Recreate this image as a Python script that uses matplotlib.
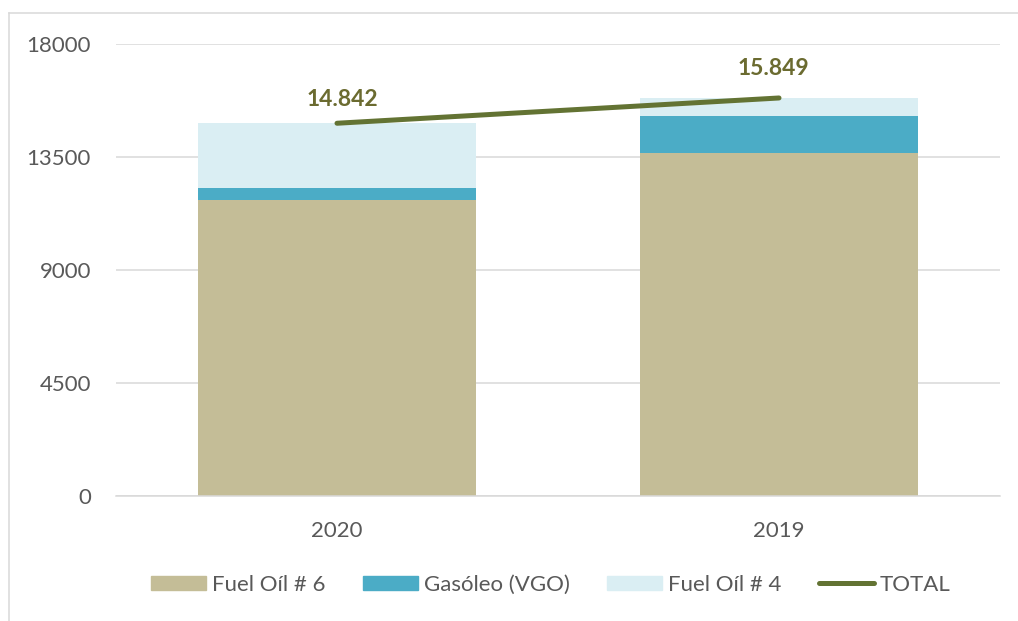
import matplotlib
matplotlib.use("Agg")
import matplotlib.pyplot as plt
from matplotlib.lines import Line2D
from matplotlib.patches import Patch

plt.rcParams['font.family'] = ['Lato', 'DejaVu Sans']

categories = ["2020", "2019"]
fuel_oil_6 = [11800, 13650]
gasoleo_vgo = [480, 1500]
fuel_oil_4 = [2562, 699]
total = [14842, 15849]
total_labels = ["14.842", "15.849"]
yticks = [0, 4500, 9000, 13500, 18000]

c_fo6 = "#C4BD97"
c_gas = "#4BACC6"
c_fo4 = "#DAEEF3"
c_tot = "#637333"
c_lbl = "#6B6B30"
c_txt = "#595959"

fig = plt.figure(figsize=(10.18, 6.21), dpi=100)
ax = fig.add_axes([116/1018, 1-495.7/621, 884/1018, 451.7/621])

x = list(range(len(categories)))
w = 0.63
ax.bar(x, fuel_oil_6, w, color=c_fo6, zorder=2)
b1 = [a for a in fuel_oil_6]
ax.bar(x, gasoleo_vgo, w, bottom=b1, color=c_gas, zorder=2)
b2 = [a + b for a, b in zip(fuel_oil_6, gasoleo_vgo)]
ax.bar(x, fuel_oil_4, w, bottom=b2, color=c_fo4, zorder=2)
ax.plot(x, total, color=c_tot, lw=3.6, solid_capstyle='round', zorder=3)

offsets = [(4, 17), (-4, 21)]
for xi, yi, lab, off in zip(x, total, total_labels, offsets):
    ax.annotate(lab, (xi, yi), xytext=off, textcoords='offset points',
                ha='center', va='center', fontsize=16.5, fontweight='bold',
                color=c_lbl, zorder=4)

ax.set_xlim(-0.5, 1.5)
ax.set_ylim(0, 18000)
ax.set_yticks(yticks)
ax.set_yticklabels([str(t) for t in yticks])
ax.set_xticks(x)
ax.set_xticklabels(categories)
ax.tick_params(axis='both', length=0, labelsize=16, labelcolor=c_txt)
ax.tick_params(axis='y', pad=18)
ax.tick_params(axis='x', pad=18)
ax.grid(axis='y', color="#D9D9D9", lw=1.1, zorder=0)
ax.set_axisbelow(True)
for s in ["top", "right", "left"]:
    ax.spines[s].set_visible(False)
ax.spines["bottom"].set_color("#D9D9D9")
ax.spines["bottom"].set_linewidth(1.1)

handles = [Patch(color=c_fo6), Patch(color=c_gas), Patch(color=c_fo4),
           Line2D([0], [0], color=c_tot, lw=3.6, solid_capstyle='round')]
labels = ["Fuel Oíl # 6", "Gasóleo (VGO)", "Fuel Oíl # 4", "TOTAL"]
leg = fig.legend(handles, labels, loc='center', bbox_to_anchor=(551/1018, 1-585/621),
                 ncol=4, frameon=False, fontsize=16, handlelength=2.48,
                 handleheight=0.63, handletextpad=0.27, columnspacing=1.67)
for t in leg.get_texts():
    t.set_color(c_txt)

# outer frame (top and left)
fig.add_artist(Line2D([9/1018, 1.0], [1-13/621, 1-13/621], transform=fig.transFigure,
                      color="#D9D9D9", lw=1.1))
fig.add_artist(Line2D([9/1018, 9/1018], [0, 1-13/621], transform=fig.transFigure,
                      color="#D9D9D9", lw=1.1))

fig.savefig("out.png", dpi=100)
